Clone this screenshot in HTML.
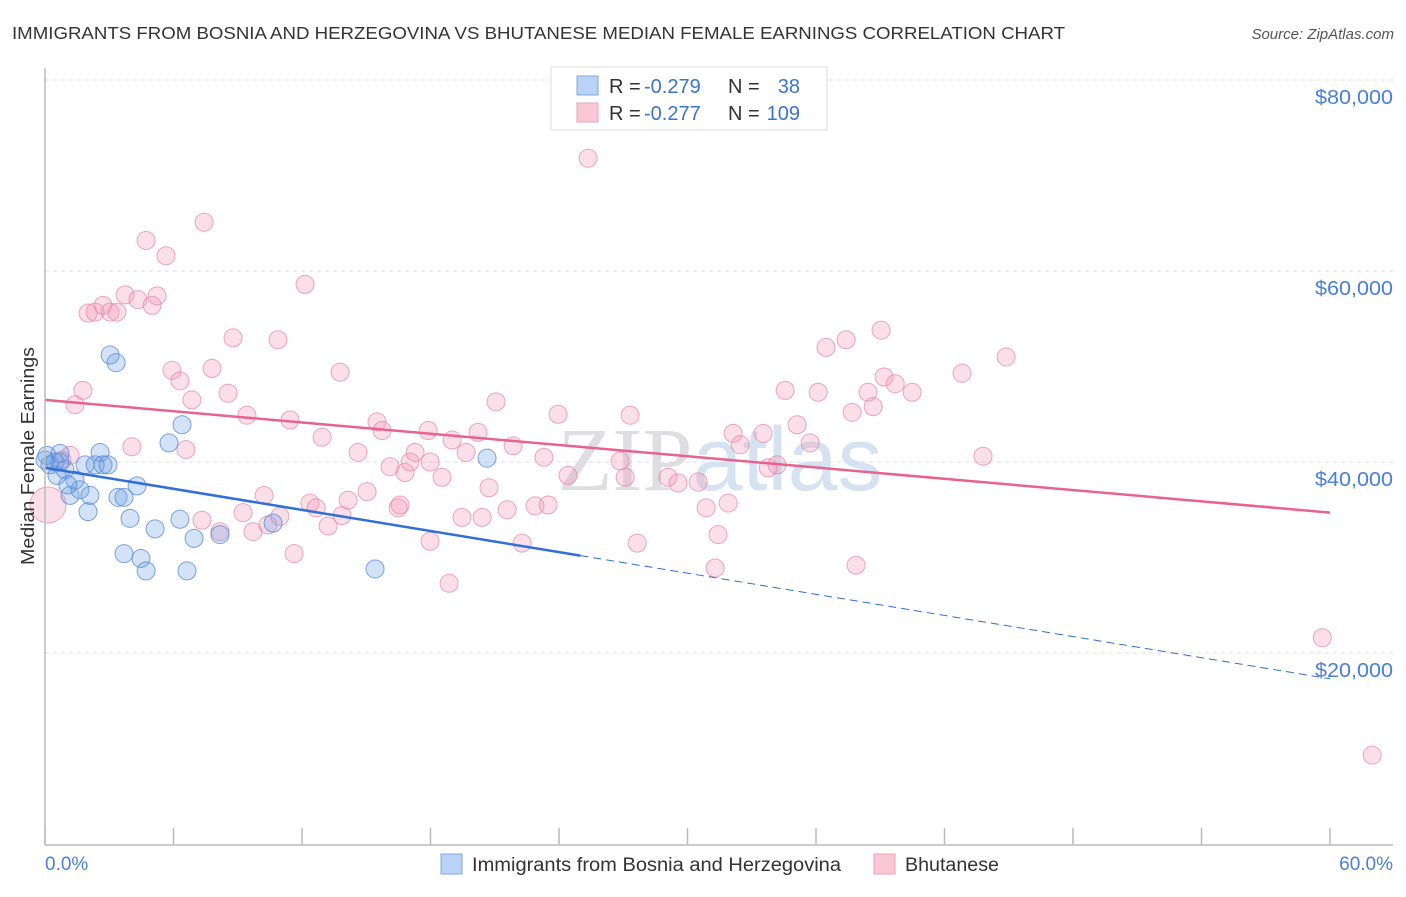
<!DOCTYPE html>
<html><head><meta charset="utf-8"><style>
body{margin:0;background:#fff;font-family:"Liberation Sans",sans-serif;}
svg text{font-family:"Liberation Sans",sans-serif;}
</style></head><body>
<svg id="chart" width="1406" height="892" viewBox="0 0 1406 892" xmlns="http://www.w3.org/2000/svg">
<text x="12" y="39" font-size="17.5" fill="#333" textLength="1053" lengthAdjust="spacingAndGlyphs">IMMIGRANTS FROM BOSNIA AND HERZEGOVINA VS BHUTANESE MEDIAN FEMALE EARNINGS CORRELATION CHART</text>
<text x="1394" y="39" font-size="15" fill="#555" font-style="italic" text-anchor="end">Source: ZipAtlas.com</text>
<g id="grid"></g>
<text x="720" y="490" font-size="90" text-anchor="middle" fill="#e6e6ea"><tspan font-family="Liberation Serif" fill="#dddde2">ZIP</tspan><tspan fill="#d4e2f2">atlas</tspan></text>
<g id="marks"></g>
<line x1="45" y1="68" x2="45" y2="845" stroke="#bbb" stroke-width="1.5"/>
<line x1="45" y1="845" x2="1393" y2="845" stroke="#bbb" stroke-width="1.5"/>
<text transform="translate(34,456) rotate(-90)" font-size="18" fill="#333" text-anchor="middle" textLength="218" lengthAdjust="spacingAndGlyphs">Median Female Earnings</text>
<text x="45" y="870" font-size="19" fill="#4a7fd6">0.0%</text>
<text x="1393" y="870" font-size="19" fill="#4a7fd6" text-anchor="end">60.0%</text>
<g>
<rect x="551" y="67" width="276" height="63" fill="#fff" stroke="#ddd"/>
<rect x="577" y="76" width="21" height="19" fill="#b9d2f5" stroke="#7ea7e3"/>
<rect x="577" y="103" width="21" height="19" fill="#f9c7d6" stroke="#eca0b8"/>
<text x="609" y="93" font-size="20" fill="#333">R =</text>
<text x="644" y="93" font-size="20" fill="#3b73d1">-0.279</text>
<text x="728" y="93" font-size="20" fill="#333">N =</text>
<text x="800" y="93" font-size="20" fill="#3b73d1" text-anchor="end">38</text>
<text x="609" y="120" font-size="20" fill="#333">R =</text>
<text x="644" y="120" font-size="20" fill="#3b73d1">-0.277</text>
<text x="728" y="120" font-size="20" fill="#333">N =</text>
<text x="800" y="120" font-size="20" fill="#3b73d1" text-anchor="end">109</text>
</g>
<g>
<rect x="441" y="854" width="21" height="20" fill="#b9d2f5" stroke="#7ea7e3"/>
<text x="472" y="871" font-size="19" fill="#333" textLength="369" lengthAdjust="spacingAndGlyphs">Immigrants from Bosnia and Herzegovina</text>
<rect x="874" y="854" width="21" height="20" fill="#f9c7d6" stroke="#eca0b8"/>
<text x="905" y="871" font-size="19" fill="#333" textLength="94" lengthAdjust="spacingAndGlyphs">Bhutanese</text>
</g>
</svg>
<script>
const yTicks=[20000,40000,60000,80000];
const yTickLabels=["$20,000","$40,000","$60,000","$80,000"];
const xTicks=[0,6,12,18,24,30,36,42,48,54,60];
const blueX=[0.09,0.23,0.47,0.70,0.56,0.93,1.17,1.40,1.63,1.87,2.01,2.10,2.34,2.57,2.71,2.94,3.04,3.32,3.41,3.69,3.97,4.30,3.69,4.48,4.72,5.14,5.79,6.30,6.40,6.63,6.96,8.17,10.65,15.41,20.64,0.70,0.0,1.07];
const blueY=[40.7,39.7,40.0,40.9,38.6,39.2,36.5,38.1,37.1,39.7,34.8,36.5,39.7,41.0,39.7,39.7,51.2,50.4,36.3,36.3,34.1,37.5,30.4,29.9,28.6,33.0,42.0,34.0,43.9,28.6,32.0,32.4,33.6,28.8,40.4,40.0,40.2,37.6];
const pinkX=[0.14,0.79,1.17,1.40,1.77,2.01,2.34,2.71,3.04,3.36,3.74,4.06,4.34,4.72,5.00,5.23,5.65,5.93,6.30,6.58,6.86,7.43,7.33,7.80,8.17,8.55,8.78,9.25,9.43,9.71,10.23,10.41,10.88,10.97,11.44,11.63,12.14,12.37,12.66,12.94,13.22,13.78,13.87,14.15,14.62,15.04,15.50,15.74,16.11,16.49,16.81,17.05,17.28,17.98,17.89,18.54,18.87,19.01,19.47,19.66,20.22,20.41,20.73,21.06,21.58,21.86,22.28,22.88,23.30,23.49,23.96,24.42,25.36,26.85,27.09,27.32,27.65,29.09,29.56,30.50,30.87,31.29,31.43,31.90,32.13,32.46,33.53,33.77,34.18,34.56,35.12,35.73,36.10,36.47,37.41,37.69,37.87,38.43,38.67,39.04,39.18,39.70,40.49,42.82,43.80,44.88,59.64,61.97,16.58,17.98];
const pinkY=[35.5,40.2,40.7,46.0,47.5,55.6,55.7,56.4,55.7,55.7,57.5,41.6,57.0,63.2,56.4,57.4,61.6,49.6,48.5,41.3,46.5,65.1,33.9,49.8,32.7,47.2,53.0,34.7,44.9,32.7,36.5,33.4,52.8,34.3,44.4,30.4,58.6,35.7,35.2,42.6,33.3,49.4,34.4,36.0,41.0,36.9,44.2,43.3,39.5,35.2,38.9,40.0,41.0,31.7,43.3,38.4,27.3,42.3,34.2,41.0,43.1,34.2,37.3,46.3,35.0,41.7,31.5,35.4,40.5,35.5,45.0,38.6,71.8,40.1,38.4,44.9,31.5,38.4,37.8,37.9,35.2,28.9,32.4,35.7,43.0,41.8,43.0,39.4,39.7,47.5,43.9,42.0,47.3,52.0,52.8,45.2,29.2,47.3,45.8,53.8,48.9,48.2,47.3,49.3,40.6,51.0,21.6,9.3,35.5,40.0];
const pinkR=[18];
const blueTrend=[39.4,30.2,17.3];
const blueTrendX=[0,25,60];
const pinkTrend=[46.5,34.7];
const pinkTrendX=[0,60];
const X=v=>45+v/60*1285;
const Y=v=>844-v/20000*191;
const NS="http://www.w3.org/2000/svg";
function mk(t,a,p){const e=document.createElementNS(NS,t);for(const k in a)e.setAttribute(k,a[k]);p.appendChild(e);return e;}
const grid=document.getElementById('grid'),marks=document.getElementById('marks');
yTicks.forEach((v,i)=>{
 const l=mk('line',{x1:45,x2:1393,y1:Y(v),y2:Y(v),stroke:'#ddd','stroke-dasharray':'4,4'},grid);
 
 
 const t=mk('text',{x:1393,y:Y(v)+24,'font-size':20,fill:'#4a7fd6','text-anchor':'end',textLength:78,lengthAdjust:'spacingAndGlyphs'},grid);
 t.textContent=yTickLabels[i];
 
 
});
xTicks.forEach(v=>{
 const l=mk('line',{x1:X(v),x2:X(v),y1:828,y2:845,stroke:'#bbb','stroke-width':1.5},grid);
 
 
});
pinkX.forEach((v,i)=>{
 const c=mk('circle',{cx:X(v),cy:Y(pinkY[i]*1000),r:i===0?pinkR[0]:9,fill:'rgba(242,150,180,0.3)',stroke:'rgba(230,130,165,0.7)','stroke-width':1},marks);
 
 
});
blueX.forEach((v,i)=>{
 const c=mk('circle',{cx:X(v),cy:Y(blueY[i]*1000),r:9,fill:'rgba(110,160,230,0.3)',stroke:'rgba(80,135,215,0.75)','stroke-width':1},marks);
 
 
});
const pl=mk('line',{x1:X(pinkTrendX[0]),y1:Y(pinkTrend[0]*1000),x2:X(pinkTrendX[1]),y2:Y(pinkTrend[1]*1000),stroke:'#e8628f','stroke-width':2.5},marks);


const bl=mk('line',{x1:X(blueTrendX[0]),y1:Y(blueTrend[0]*1000),x2:X(blueTrendX[1]),y2:Y(blueTrend[1]*1000),stroke:'#2f6fd6','stroke-width':2.5},marks);


const bd=mk('line',{x1:X(blueTrendX[1]),y1:Y(blueTrend[1]*1000),x2:X(blueTrendX[2]),y2:Y(blueTrend[2]*1000),stroke:'#2f6fd6','stroke-width':1,'stroke-dasharray':'8,5'},marks);


</script>
</body></html>
